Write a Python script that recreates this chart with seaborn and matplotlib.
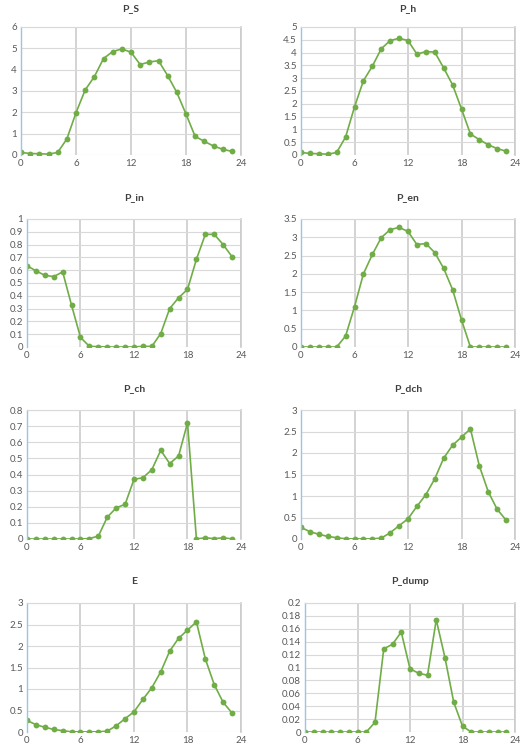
import matplotlib
matplotlib.use("Agg")
import matplotlib.pyplot as plt
import seaborn as sns
import pandas as pd
import numpy as np

sns.set_theme(style="white")
plt.rcParams['font.family'] = ['Lato', 'DejaVu Sans']

hours = list(range(24))

P_S = [0.12, 0.07, 0.06, 0.04, 0.12, 0.75, 1.98, 3.05, 3.67, 4.52, 4.85, 4.97,
       4.82, 4.24, 4.36, 4.42, 3.72, 2.93, 1.92, 0.87, 0.64, 0.42, 0.27, 0.17]
P_h = [0.10, 0.06, 0.05, 0.03, 0.10, 0.70, 1.88, 2.90, 3.47, 4.15, 4.47, 4.56,
       4.47, 3.94, 4.04, 4.02, 3.40, 2.74, 1.80, 0.82, 0.60, 0.40, 0.25, 0.15]
P_in = [0.635, 0.595, 0.560, 0.550, 0.587, 0.325, 0.075, 0.005, 0.003, 0.0, 0.0, 0.0,
        0.0, 0.005, 0.005, 0.105, 0.300, 0.385, 0.450, 0.685, 0.880, 0.880, 0.800, 0.705]
P_en = [0, 0, 0, 0, 0, 0.30, 1.10, 2.00, 2.53, 2.99, 3.21, 3.27,
        3.16, 2.80, 2.83, 2.58, 2.15, 1.57, 0.74, 0, 0, 0, 0, 0]
P_ch = [0, 0, 0, 0, 0, 0, 0, 0.003, 0.018, 0.135, 0.193, 0.215,
        0.370, 0.380, 0.430, 0.550, 0.468, 0.515, 0.720, 0.0, 0.008, 0.002, 0.008, 0.0]
P_dch = [0.27, 0.17, 0.11, 0.06, 0.03, 0.005, 0.003, 0.003, 0.005, 0.02, 0.145, 0.31,
         0.47, 0.76, 1.03, 1.40, 1.88, 2.18, 2.37, 2.56, 1.70, 1.10, 0.69, 0.44]
E = [0.27, 0.17, 0.11, 0.06, 0.03, 0.005, 0.003, 0.003, 0.005, 0.02, 0.145, 0.31,
     0.47, 0.76, 1.03, 1.40, 1.88, 2.18, 2.37, 2.56, 1.70, 1.10, 0.69, 0.44]
P_dump = [0, 0, 0, 0, 0, 0, 0, 0, 0.015, 0.129, 0.136, 0.155,
          0.098, 0.091, 0.088, 0.174, 0.115, 0.046, 0.009, 0, 0, 0, 0, 0]

titles = ["P_S", "P_h", "P_in", "P_en", "P_ch", "P_dch", "E", "P_dump"]
series = [P_S, P_h, P_in, P_en, P_ch, P_dch, E, P_dump]
y_max = [6, 5, 1, 3.5, 0.8, 3, 3, 0.2]
y_step = [1, 0.5, 0.1, 0.5, 0.1, 0.5, 0.5, 0.02]
x_ticks = [0, 6, 12, 18, 24]

W, H = 520, 748
fig = plt.figure(figsize=(W / 100, H / 100), dpi=100)

# pixel boxes: (left, top, right, bottom)
boxes = [
    (21, 27, 241, 155), (301, 27, 515, 155),
    (27, 219, 241, 347), (301, 219, 515, 347),
    (27, 410, 241, 539), (301, 410, 515, 539),
    (27, 603, 241, 732), (305, 603, 515, 732),
]
title_y = [9, 9, 198, 198, 389, 389, 582, 582]

green = "#70ad47"
tick_col = "#595959"

for i, (t, s) in enumerate(zip(titles, series)):
    l, tp, r, b = boxes[i]
    ax = fig.add_axes([l / W, 1 - b / H, (r - l) / W, (b - tp) / H])
    df = pd.DataFrame({"hour": hours, "value": s})
    sns.lineplot(data=df, x="hour", y="value", ax=ax, color=green, lw=1.2,
                 marker="o", markersize=4.2, markeredgewidth=0, markeredgecolor=green)
    ax.set_xlim(0, 24)
    ax.set_ylim(0, y_max[i])
    ax.set_xticks(x_ticks)
    yt = np.round(np.arange(0, y_max[i] + y_step[i] / 2, y_step[i]), 4)
    ax.set_yticks(yt)
    ax.set_yticklabels([f"{v:g}" for v in yt])
    ax.set_xlabel("")
    ax.set_ylabel("")
    ax.tick_params(axis="both", labelsize=7, colors=tick_col, length=0, pad=3)
    ax.grid(True, axis="y", color="#d9d9d9", lw=0.8)
    ax.grid(True, axis="x", color="#cccccc", lw=1.2)
    ax.set_axisbelow(True)
    ax.spines["bottom"].set_visible(False)
    ax.spines["top"].set_color("#d9d9d9")
    ax.spines["top"].set_linewidth(0.8)
    ax.spines["right"].set_color("#cccccc")
    ax.spines["right"].set_linewidth(1.2)
    ax.spines["left"].set_color("#9dc3e6")
    ax.spines["left"].set_linewidth(1.0)
    cx = (l + r) / 2 / W
    fig.text(cx, 1 - title_y[i] / H, t, ha="center", va="center",
             fontsize=7.5, fontweight="bold", color="#404040")

fig.savefig("out.png", dpi=100, facecolor="white")
